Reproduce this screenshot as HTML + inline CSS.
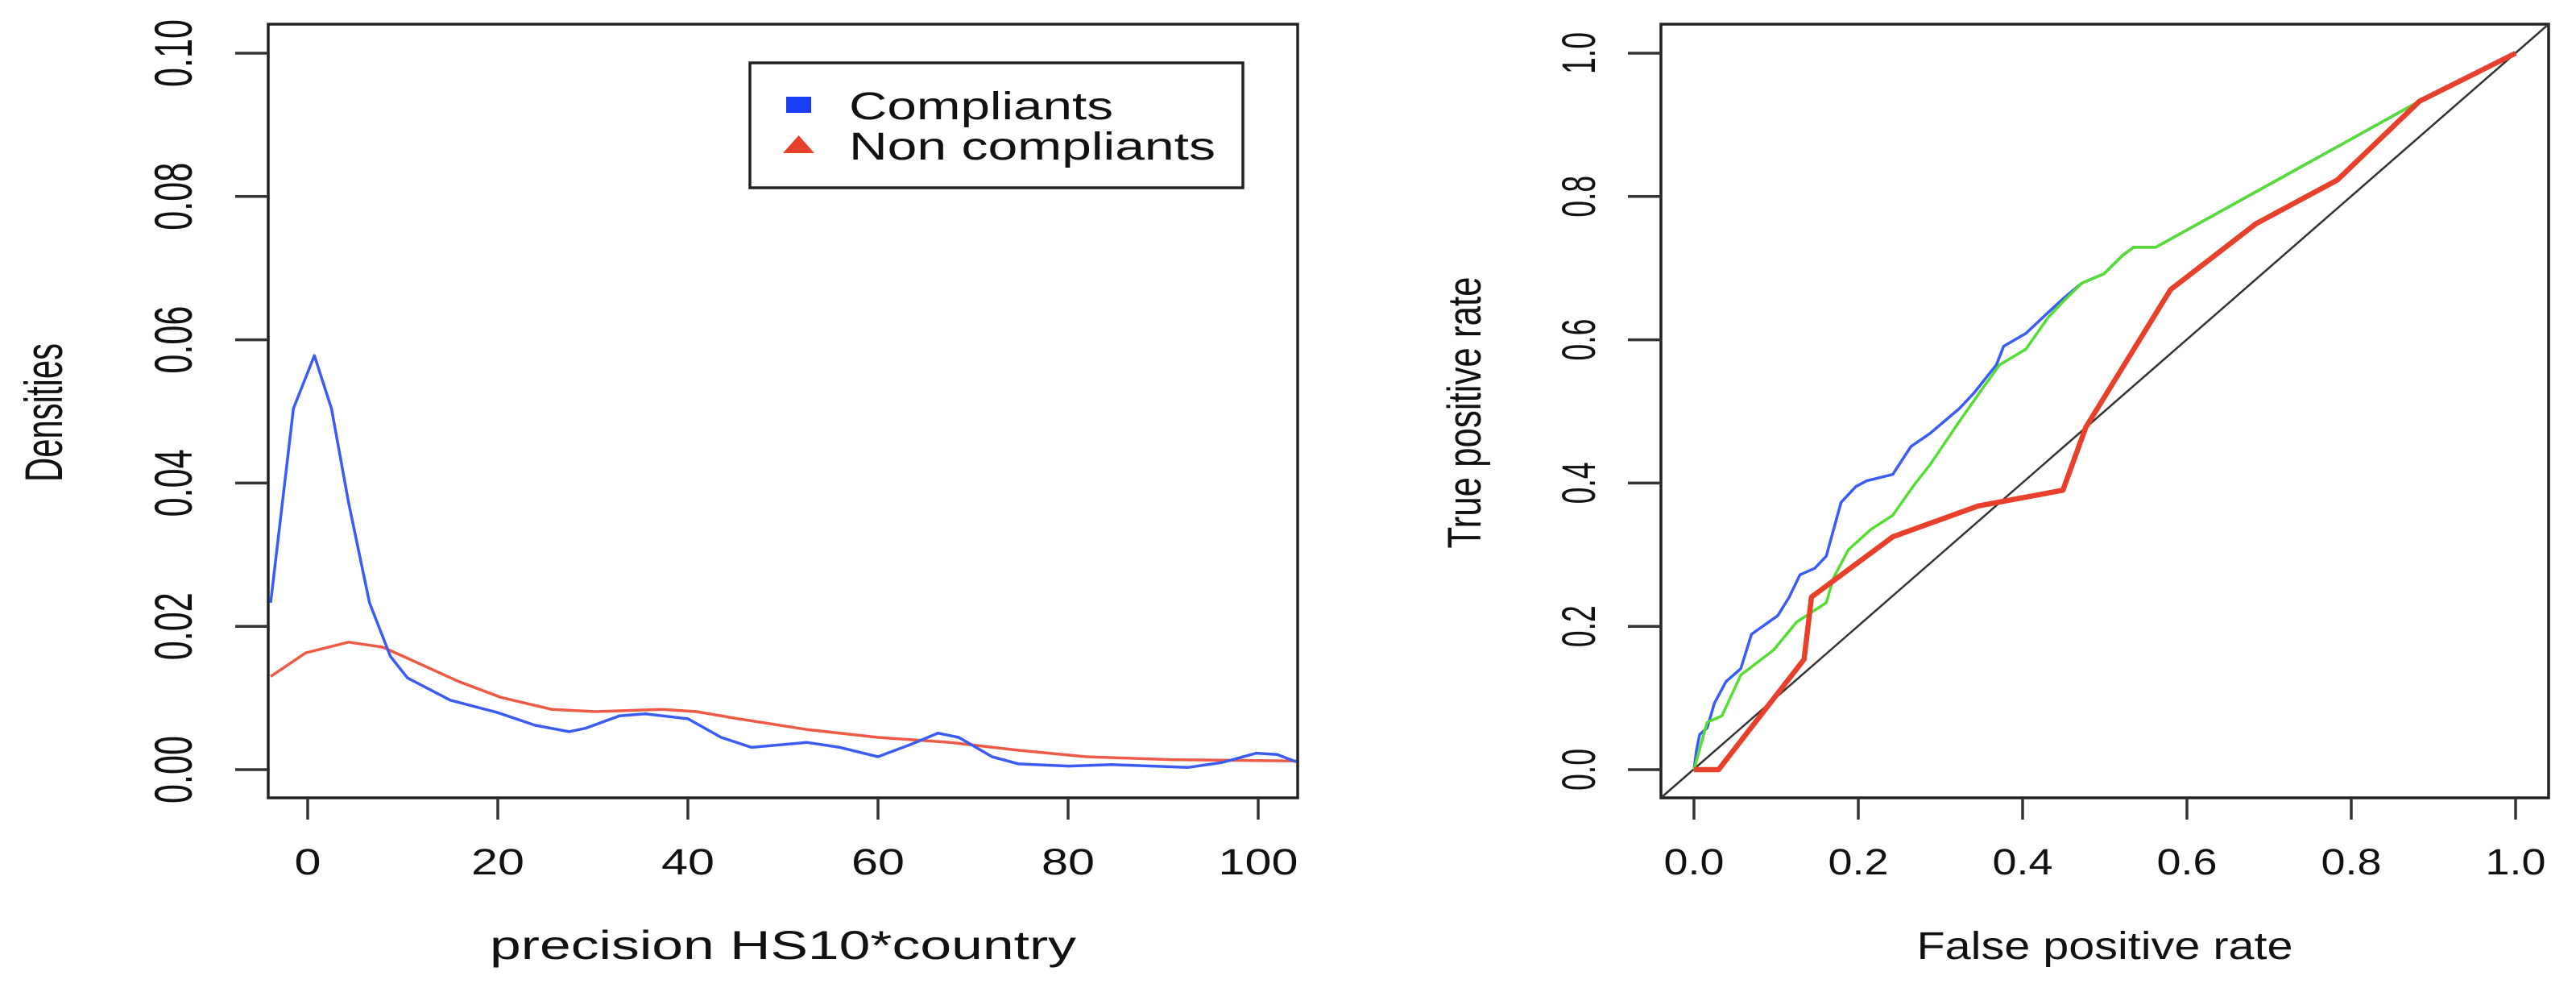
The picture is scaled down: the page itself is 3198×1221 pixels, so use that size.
<!DOCTYPE html>
<html><head><meta charset="utf-8"><style>
html,body{margin:0;padding:0;background:#fff;}
svg{display:block;font-family:"Liberation Sans",Arial,sans-serif;}
</style></head>
<body>
<svg id="chart" width="3198" height="1221" viewBox="0 0 3198 1221" xmlns="http://www.w3.org/2000/svg">
<rect width="3198" height="1221" fill="#fff"/>
<g id="left"></g>
<g id="right"></g>
</svg>
<script>
// ---- Density chart data ----
const densXTicks = [0, 20, 40, 60, 80, 100];
const densYTicks = [0, 0.02, 0.04, 0.06, 0.08, 0.10];
const densYTickLabels = ["0.00", "0.02", "0.04", "0.06", "0.08", "0.10"];
const compX = [-3.9,-1.5,0.7,2.5,4.3,6.5,8.7,10.5,15,19.9,23.9,27.5,29.3,32.8,35.5,40,43.5,46.7,52.5,56,60,63.6,66.3,68.5,72,74.8,80.1,84.6,92.6,96.2,99.8,102,104];
const compY = [0.0233,0.0504,0.0578,0.0504,0.0373,0.0233,0.0158,0.0128,0.0097,0.008,0.0062,0.0053,0.0058,0.0075,0.0078,0.0071,0.0045,0.0031,0.0038,0.0031,0.0018,0.0036,0.0051,0.0045,0.0018,0.0008,0.0005,0.0007,0.0003,0.001,0.0023,0.0021,0.0011];
const nonX = [-3.9,-0.2,4.3,7.9,11.4,15.9,20.3,25.7,30.2,37.3,40.9,45.3,52.5,60,67.6,74.8,81.9,90.8,104];
const nonY = [0.013,0.0163,0.0178,0.0171,0.015,0.0123,0.0101,0.0084,0.0081,0.0084,0.0081,0.0071,0.0056,0.0045,0.0038,0.0027,0.0018,0.0014,0.0012];
// ---- ROC chart data ----
const rocTicks = [0, 0.2, 0.4, 0.6, 0.8, 1.0];
const rocTickLabels = ["0.0", "0.2", "0.4", "0.6", "0.8", "1.0"];
const blueFpr = [0,0.003,0.007,0.016,0.025,0.039,0.057,0.070,0.102,0.116,0.129,0.147,0.161,0.179,0.197,0.210,0.242,0.264,0.287,0.323,0.341,0.368,0.377,0.404,0.431,0.449,0.472,0.499,0.522,0.535,0.562,0.883,1];
const blueTpr = [0,0.027,0.049,0.058,0.093,0.123,0.141,0.189,0.215,0.241,0.272,0.281,0.298,0.373,0.395,0.403,0.412,0.451,0.469,0.504,0.526,0.565,0.591,0.609,0.638,0.657,0.679,0.692,0.718,0.729,0.729,0.933,1];
const greenFpr = [0,0.016,0.034,0.057,0.097,0.125,0.161,0.170,0.188,0.215,0.242,0.269,0.287,0.323,0.350,0.372,0.404,0.431,0.449,0.472,0.499,0.522,0.535,0.562,0.883,1];
const greenTpr = [0,0.066,0.075,0.132,0.167,0.206,0.233,0.268,0.307,0.335,0.355,0.399,0.425,0.486,0.530,0.565,0.587,0.631,0.653,0.679,0.692,0.718,0.729,0.729,0.933,1];
const redFpr = [0,0.030,0.134,0.143,0.242,0.346,0.449,0.477,0.580,0.684,0.783,0.883,1];
const redTpr = [0,0,0.154,0.241,0.325,0.368,0.390,0.478,0.670,0.762,0.823,0.933,1];

const NS = "http://www.w3.org/2000/svg";
function mk(parent, tag, attrs, text){
  const e = document.createElementNS(NS, tag);
  for (const k in attrs) e.setAttribute(k, attrs[k]);
  if (text !== undefined) e.textContent = text;
  parent.appendChild(e);
  return e;
}
const Y0 = 955, Y1 = 66;
const lx = v => 382 + v * 11.8;
const ly = v => Y0 - v / 0.1 * (Y0 - Y1);
const rx = v => 2103 + v * 1020;
const ry = v => Y0 - v * (Y0 - Y1);

function path(xs, ys, fx, fy){
  return xs.map((x,i)=>(i?"L":"M")+fx(x).toFixed(1)+","+fy(ys[i]).toFixed(1)).join(" ");
}

// ---------- LEFT ----------
const L = document.getElementById("left");
let el;
el = mk(L, "rect", {x:333, y:30, width:1278, height:960, fill:"none", stroke:"#222", "stroke-width":3.5});


densXTicks.forEach(t=>{
  el = mk(L, "line", {x1:lx(t), x2:lx(t), y1:990, y2:1017, stroke:"#333", "stroke-width":3.5});
  
  
  const s = String(t);
  el = mk(L, "text", {x:lx(t), y:1085, "font-size":45, "text-anchor":"middle", textLength: s.length*33, lengthAdjust:"spacingAndGlyphs", fill:"#111"}, s);
  
  
});
densYTicks.forEach((t,i)=>{
  el = mk(L, "line", {x1:292, x2:333, y1:ly(t), y2:ly(t), stroke:"#333", "stroke-width":3.5});
  
  
  el = mk(L, "text", {x:0, y:0, "font-size":66, "text-anchor":"middle", textLength:84, lengthAdjust:"spacingAndGlyphs", fill:"#111", transform:`translate(238,${ly(t)}) rotate(-90)`}, densYTickLabels[i]);
  
  
});
el = mk(L, "text", {x:0, y:0, "font-size":66, "text-anchor":"middle", textLength:172, lengthAdjust:"spacingAndGlyphs", fill:"#111", transform:"translate(77,512) rotate(-90)"}, "Densities");


el = mk(L, "text", {x:972, y:1190, "font-size":50, "text-anchor":"middle", textLength:728, lengthAdjust:"spacingAndGlyphs", fill:"#111", "xml:space":"preserve"}, "precision  HS10*country");


el = mk(L, "path", {d:path(nonX, nonY, lx, ly), fill:"none", stroke:"#ee5a45", "stroke-width":3.5, "stroke-linejoin":"round"});


el = mk(L, "path", {d:path(compX, compY, lx, ly), fill:"none", stroke:"#3a5cf5", "stroke-width":3.5, "stroke-linejoin":"round"});


const lg = mk(L, "g", {});


el = mk(lg, "rect", {x:931, y:78, width:612, height:155, fill:"#fff", stroke:"#222", "stroke-width":3.5});


el = mk(lg, "rect", {x:976, y:120, width:31, height:20, fill:"#1a3cf5"});


el = mk(lg, "text", {x:1054, y:148, "font-size":48, textLength:328, lengthAdjust:"spacingAndGlyphs", fill:"#111"}, "Compliants");


el = mk(lg, "polygon", {points:"991.5,168 1011,190 972,190", fill:"#e8402a"});


el = mk(lg, "text", {x:1054, y:198, "font-size":48, textLength:455, lengthAdjust:"spacingAndGlyphs", fill:"#111"}, "Non compliants");



// ---------- RIGHT ----------
const R = document.getElementById("right");
el = mk(R, "rect", {x:2062, y:30, width:1102, height:960, fill:"none", stroke:"#222", "stroke-width":3.5});


rocTicks.forEach((t,i)=>{
  el = mk(R, "line", {x1:rx(t), x2:rx(t), y1:990, y2:1017, stroke:"#333", "stroke-width":3.5});
  
  
  el = mk(R, "text", {x:rx(t), y:1085, "font-size":45, "text-anchor":"middle", textLength:75, lengthAdjust:"spacingAndGlyphs", fill:"#111"}, rocTickLabels[i]);
  
  
  el = mk(R, "line", {x1:2021, x2:2062, y1:ry(t), y2:ry(t), stroke:"#333", "stroke-width":3.5});
  
  
  el = mk(R, "text", {x:0, y:0, "font-size":58, "text-anchor":"middle", textLength:52, lengthAdjust:"spacingAndGlyphs", fill:"#111", transform:`translate(1980,${ry(t)}) rotate(-90)`}, rocTickLabels[i]);
  
  
});
el = mk(R, "text", {x:0, y:0, "font-size":58, "text-anchor":"middle", textLength:337, lengthAdjust:"spacingAndGlyphs", fill:"#111", transform:"translate(1838,512) rotate(-90)"}, "True positive rate");


el = mk(R, "text", {x:2613, y:1190, "font-size":48, "text-anchor":"middle", textLength:467, lengthAdjust:"spacingAndGlyphs", fill:"#111"}, "False positive rate");


el = mk(R, "line", {x1:2062, y1:990, x2:3164, y2:30, stroke:"#333", "stroke-width":2.5});


el = mk(R, "path", {d:path(blueFpr, blueTpr, rx, ry), fill:"none", stroke:"#3a5cf5", "stroke-width":3.5, "stroke-linejoin":"round"});


el = mk(R, "path", {d:path(greenFpr, greenTpr, rx, ry), fill:"none", stroke:"#55dd33", "stroke-width":3.5, "stroke-linejoin":"round"});


el = mk(R, "path", {d:path(redFpr, redTpr, rx, ry), fill:"none", stroke:"#e8402a", "stroke-width":6.5, "stroke-linejoin":"round"});


</script>
</body></html>
